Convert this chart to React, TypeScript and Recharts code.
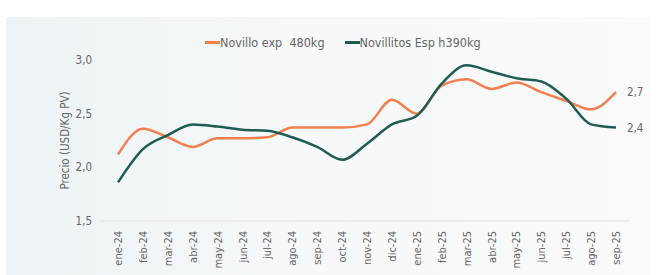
import React from "react";
import { LineChart, Line, XAxis, YAxis, LabelList } from "recharts";

const months = [
  "ene-24", "feb-24", "mar-24", "abr-24", "may-24", "jun-24", "jul-24",
  "ago-24", "sep-24", "oct-24", "nov-24", "dic-24", "ene-25", "feb-25",
  "mar-25", "abr-25", "may-25", "jun-25", "jul-25", "ago-25", "sep-25",
];
const novilloExp = [
  2.12, 2.36, 2.28, 2.19, 2.27, 2.27, 2.28, 2.37, 2.37, 2.37, 2.4, 2.63,
  2.5, 2.76, 2.82, 2.73, 2.79, 2.7, 2.62, 2.54, 2.7,
];
const novillitosEsp = [
  1.86, 2.17, 2.3, 2.4, 2.38, 2.35, 2.34, 2.28, 2.19, 2.07, 2.22, 2.4,
  2.48, 2.78, 2.95, 2.89, 2.83, 2.8, 2.64, 2.4, 2.37,
];
const yTicks = [1.5, 2.0, 2.5, 3.0];

const ORANGE = "#f0814f";
const GREEN = "#1f5c54";
const FONT = "'Liberation Sans Narrow', 'DejaVu Sans Condensed', Roboto, sans-serif";

const data = months.map((m, i) => ({
  month: m,
  exp: novilloExp[i],
  esp: novillitosEsp[i],
}));

const fmt = (v: number) => v.toFixed(1).replace(".", ",");

const EndLabel = (props: any) => {
  const { x, y, value, index } = props;
  if (index !== data.length - 1) return null;
  return (
    <text x={x + 11} y={y} dy={4} fill="#666" fontSize={11.5} fontFamily={FONT}>
      {fmt(value)}
    </text>
  );
};

const XTick = (props: any) => {
  const { x, y, payload } = props;
  return (
    <text
      x={x}
      y={y}
      transform={`rotate(-90 ${x} ${y})`}
      textAnchor="end"
      dy={4}
      dx={-2}
      fill="#666"
      fontSize={11}
      fontFamily={FONT}
    >
      {payload.value}
    </text>
  );
};

const LegendRow = () => (
  <div
    style={{
      position: "absolute",
      top: 35,
      left: 205,
      display: "flex",
      gap: 20,
      fontFamily: FONT,
      fontSize: 12.5,
      color: "#666",
    }}
  >
    {[
      { name: "Novillo exp  480kg", color: ORANGE },
      { name: "Novillitos Esp h390kg", color: GREEN },
    ].map((s) => (
      <div key={s.name} style={{ display: "flex", alignItems: "center" }}>
        <span
          style={{ display: "inline-block", width: 15, height: 2.5, background: s.color }}
        />
        <span style={{ whiteSpace: "pre" }}>{s.name}</span>
      </div>
    ))}
  </div>
);

export default function App() {
  return (
    <div
      style={{
        position: "absolute",
        left: 0,
        top: 0,
        width: 657,
        height: 275,
        background: "#fff",
      }}
    >
      <div
        style={{
          position: "absolute",
          left: 6,
          top: 17,
          width: 645,
          height: 258,
          background: "linear-gradient(90deg, #edf3f5 0%, #f6f8f9 45%, #fafafa 100%)",
        }}
      />
      <div style={{ position: "absolute", left: 0, top: 0 }}>
        <LineChart
          width={657}
          height={275}
          data={data}
          margin={{ top: 60, right: 27, bottom: 0, left: 20 }}
        >
          <XAxis
            dataKey="month"
            interval={0}
            height={54}
            tick={<XTick />}
            tickLine={false}
            axisLine={{ stroke: "#e2e2e2" }}
            padding={{ left: 18, right: 14 }}
          />
          <YAxis
            width={80}
            domain={[1.5, 3]}
            ticks={yTicks}
            tickFormatter={fmt}
            axisLine={false}
            tickLine={false}
            tick={{ fill: "#666", fontSize: 11.5, fontFamily: FONT }}
            label={{
              value: "Precio (USD/Kg PV)",
              angle: -90,
              position: "center",
              dx: 5,
              style: { fill: "#666", fontSize: 11.5, fontFamily: FONT, textAnchor: "middle" },
            }}
          />
          <Line
            type="monotone"
            dataKey="exp"
            stroke={ORANGE}
            strokeWidth={2.5}
            dot={false}
            isAnimationActive={false}
          >
            <LabelList dataKey="exp" content={<EndLabel />} />
          </Line>
          <Line
            type="monotone"
            dataKey="esp"
            stroke={GREEN}
            strokeWidth={2.5}
            dot={false}
            isAnimationActive={false}
          >
            <LabelList dataKey="esp" content={<EndLabel />} />
          </Line>
        </LineChart>
      </div>
      <LegendRow />
    </div>
  );
}
